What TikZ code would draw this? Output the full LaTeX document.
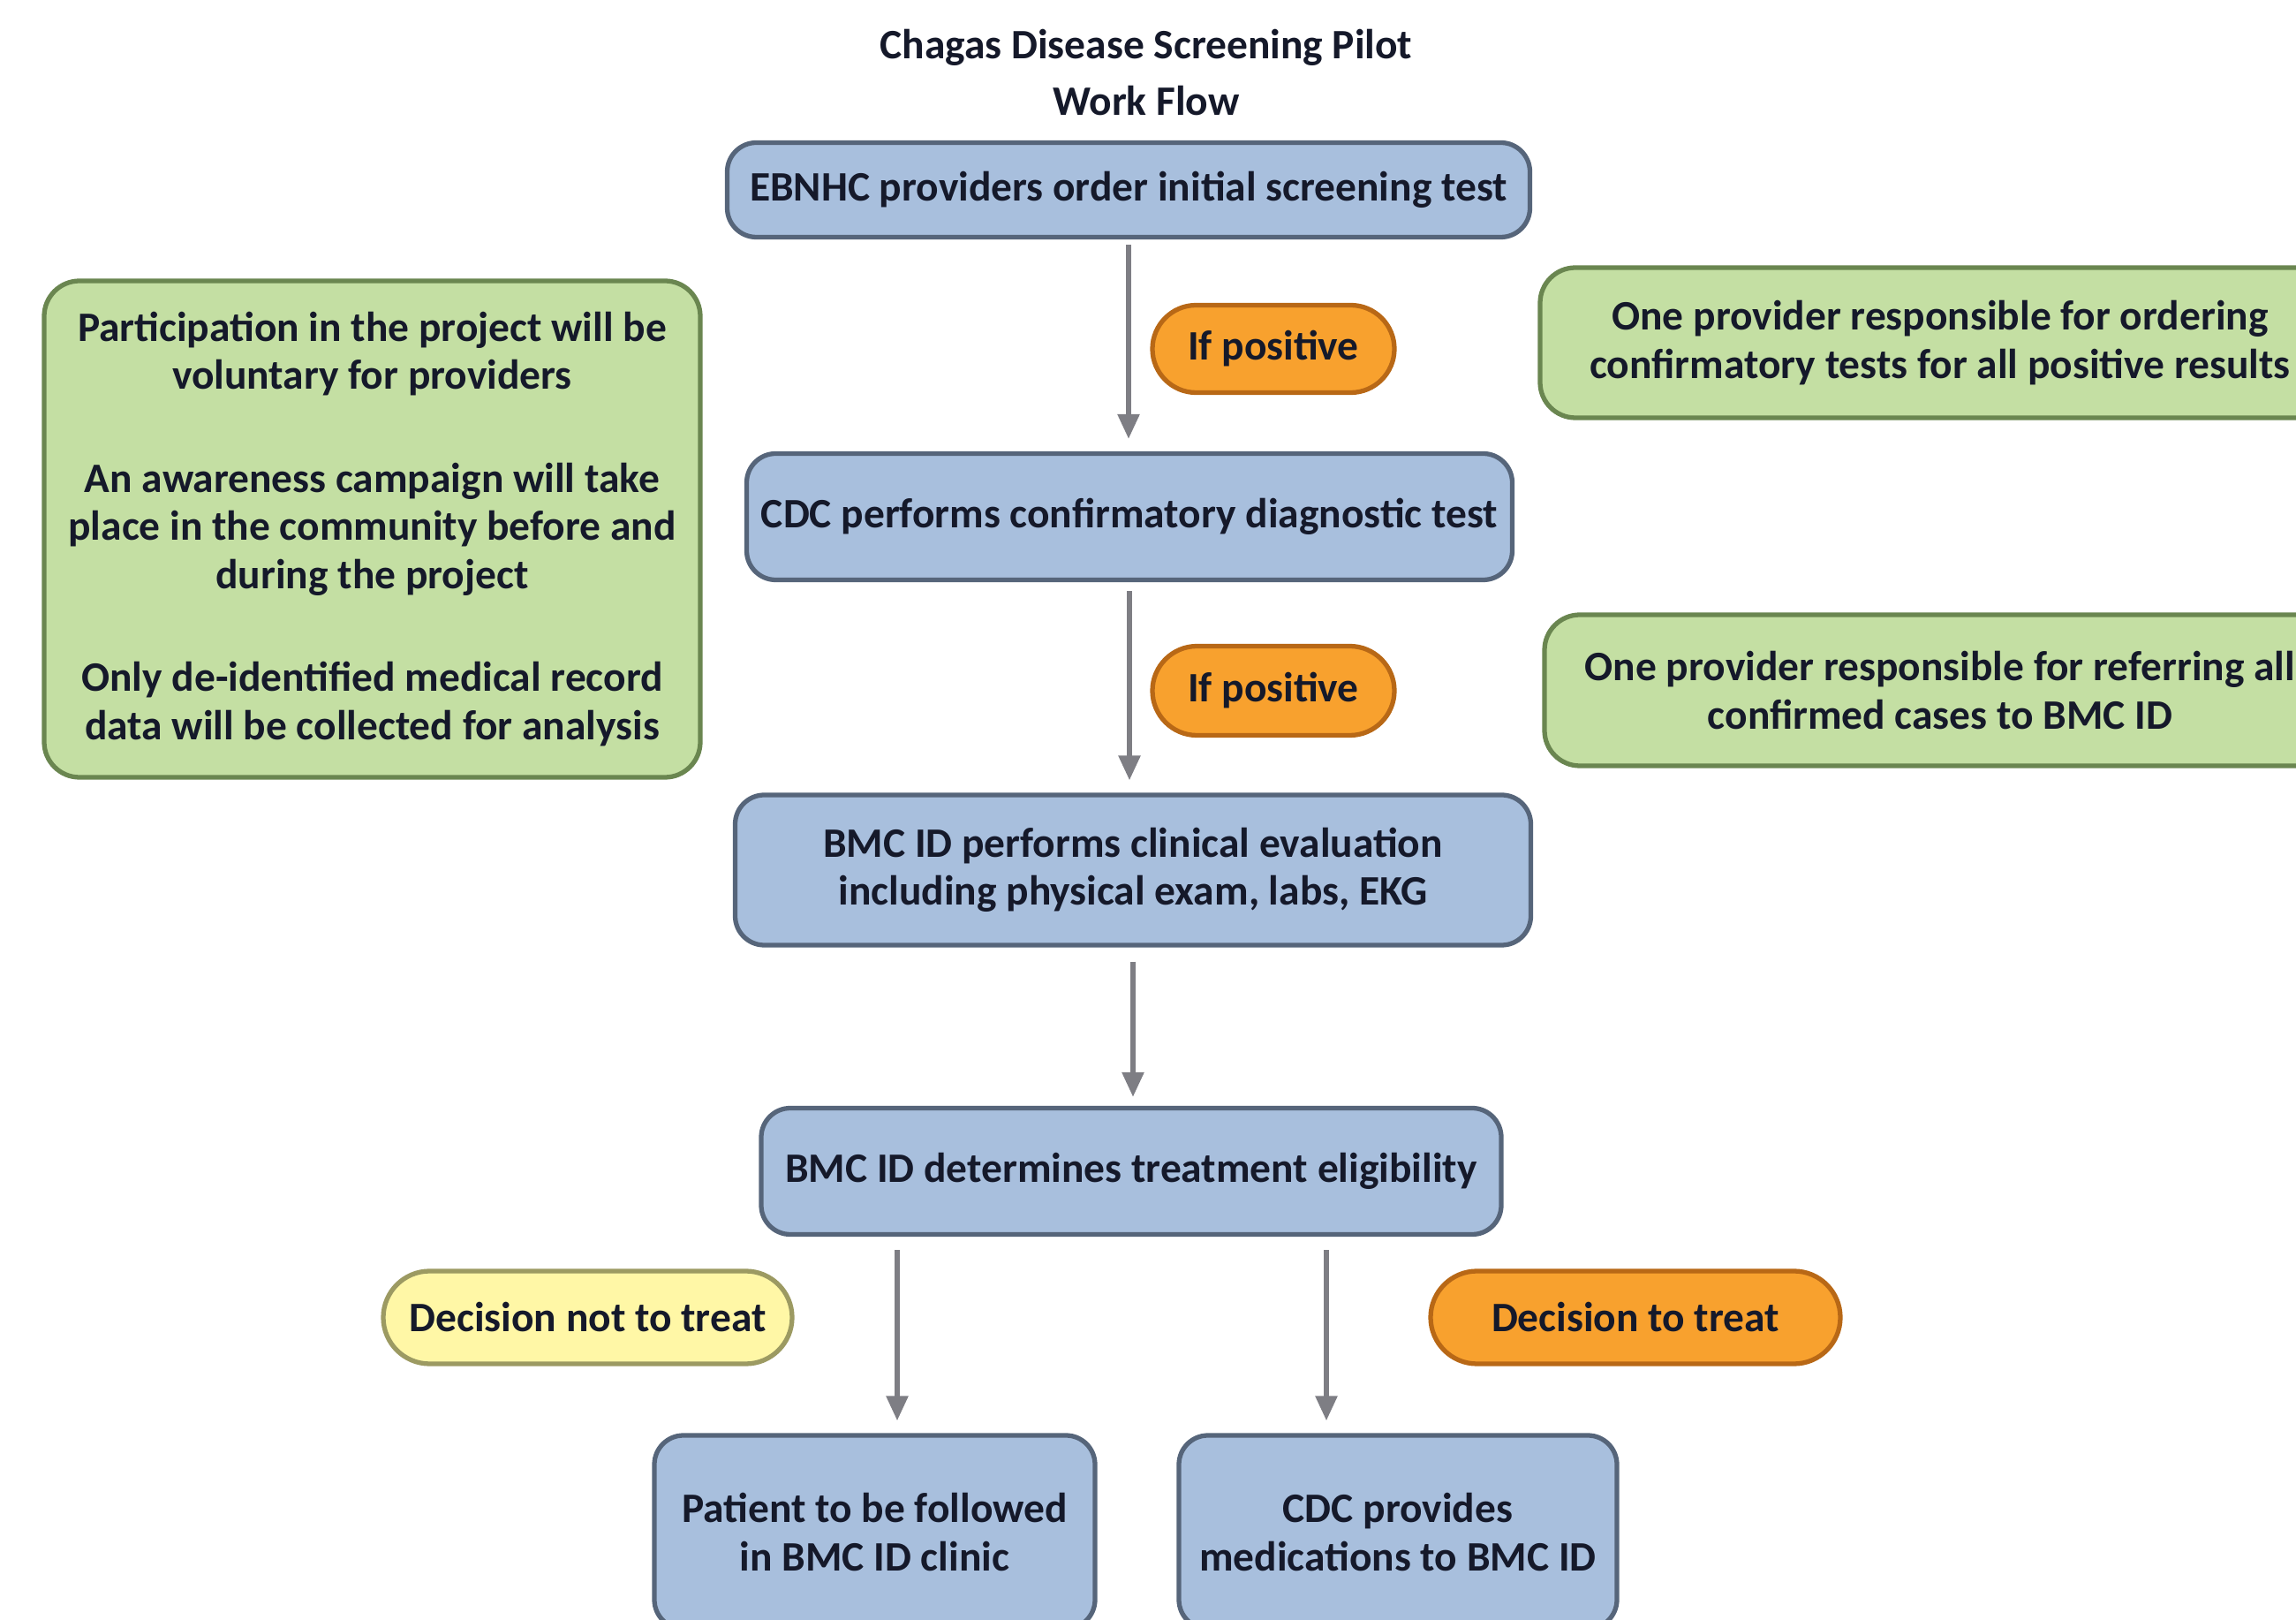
\documentclass[tikz,border=0pt]{standalone}
\usepackage{fontspec}
\setmainfont{Carlito}
\usetikzlibrary{arrows.meta,shapes.misc}
\definecolor{bfill}{HTML}{A8BFDD}
\definecolor{bdraw}{HTML}{56657A}
\definecolor{gfill}{HTML}{C4DFA3}
\definecolor{gdraw}{HTML}{6A8650}
\definecolor{ofill}{HTML}{F8A12E}
\definecolor{odraw}{HTML}{B86816}
\definecolor{yfill}{HTML}{FFF7A6}
\definecolor{ydraw}{HTML}{9C9A62}
\definecolor{txt}{HTML}{15192A}
\definecolor{arrcol}{HTML}{7E7E84}
\tikzset{
  base/.style={font=\bfseries\fontsize{13.5}{15.5}\selectfont, text=txt, align=center, inner sep=0pt, line width=1.5pt},
  procbox/.style={base, draw=bdraw, fill=bfill, rounded corners=0.33cm},
  notebox/.style={base, draw=gdraw, fill=gfill, rounded corners=0.4cm},
  opill/.style={base, draw=odraw, fill=ofill, rounded rectangle},
  ypill/.style={base, draw=ydraw, fill=yfill, rounded rectangle},
  arr/.style={draw=arrcol, line width=1.6pt, -{Triangle[width=0.24cm,length=0.28cm]}}
}
\begin{document}
\begin{tikzpicture}[x=1cm,y=-1cm]
\useasboundingbox (0,0) rectangle (26,18.34);
\begin{scope}
\clip (0,0) rectangle (26,18.34);
\node[base, font=\bfseries\fontsize{13.5}{18}\selectfont] (title) at (12.98,0.82) {Chagas Disease Screening Pilot\\Work Flow};
\node[procbox, minimum width=9.09cm, minimum height=1.07cm] (b1) at (12.78,2.15) {EBNHC providers order initial screening test};
\node[procbox, minimum width=8.67cm, minimum height=1.43cm] (b2) at (12.79,5.85) {CDC performs confirmatory diagnostic test};
\node[procbox, minimum width=9.01cm, minimum height=1.70cm] (b3) at (12.83,9.85) {BMC ID performs clinical evaluation\\including physical exam, labs, EKG};
\node[procbox, minimum width=8.38cm, minimum height=1.43cm] (b4) at (12.81,13.26) {BMC ID determines treatment eligibility};
\node[procbox, minimum width=4.99cm, minimum height=2.19cm] (pat) at (9.905,17.345) {Patient to be followed\\in BMC ID clinic};
\node[procbox, minimum width=4.96cm, minimum height=2.19cm] (med) at (15.83,17.345) {CDC provides\\medications to BMC ID};
\node[opill, minimum width=2.74cm, minimum height=0.99cm] (p1) at (14.42,3.95) {If positive};
\node[opill, minimum width=2.74cm, minimum height=1.01cm] (p2) at (14.42,7.82) {If positive};
\node[ypill, minimum width=4.63cm, minimum height=1.05cm] (dn) at (6.655,14.915) {Decision not to treat};
\node[opill, minimum width=4.64cm, minimum height=1.05cm] (dt) at (18.52,14.915) {Decision to treat};
\node[notebox, minimum width=7.43cm, minimum height=5.62cm] (gl) at (4.215,5.99) {Participation in the project will be\\voluntary for providers\\[0.62cm]An awareness campaign will take\\place in the community before and\\during the project\\[0.62cm]Only de-identified medical record\\data will be collected for analysis};
\node[notebox, minimum width=9.06cm, minimum height=1.70cm] (gr1) at (21.97,3.88) {One provider responsible for ordering\\confirmatory tests for all positive results};
\node[notebox, minimum width=8.96cm, minimum height=1.71cm] (gr2) at (21.97,7.815) {One provider responsible for referring all\\confirmed cases to BMC ID};
\coordinate (la) at (10.16,0);
\coordinate (ra) at (15.02,0);
\draw[arr, shorten <=0.06cm, shorten >=0.14cm] (b1.south) -- (b2.north -| b1.south);
\draw[arr, shorten <=0.1cm, shorten >=0.14cm] (b2.south) -- (b3.north -| b2.south);
\draw[arr, shorten <=0.16cm, shorten >=0.1cm] (b3.south) -- (b4.north -| b3.south);
\draw[arr, shorten <=0.15cm, shorten >=0.14cm] (b4.south -| la) -- (pat.north -| la);
\draw[arr, shorten <=0.15cm, shorten >=0.14cm] (b4.south -| ra) -- (med.north -| ra);
\end{scope}
\end{tikzpicture}
\end{document}
